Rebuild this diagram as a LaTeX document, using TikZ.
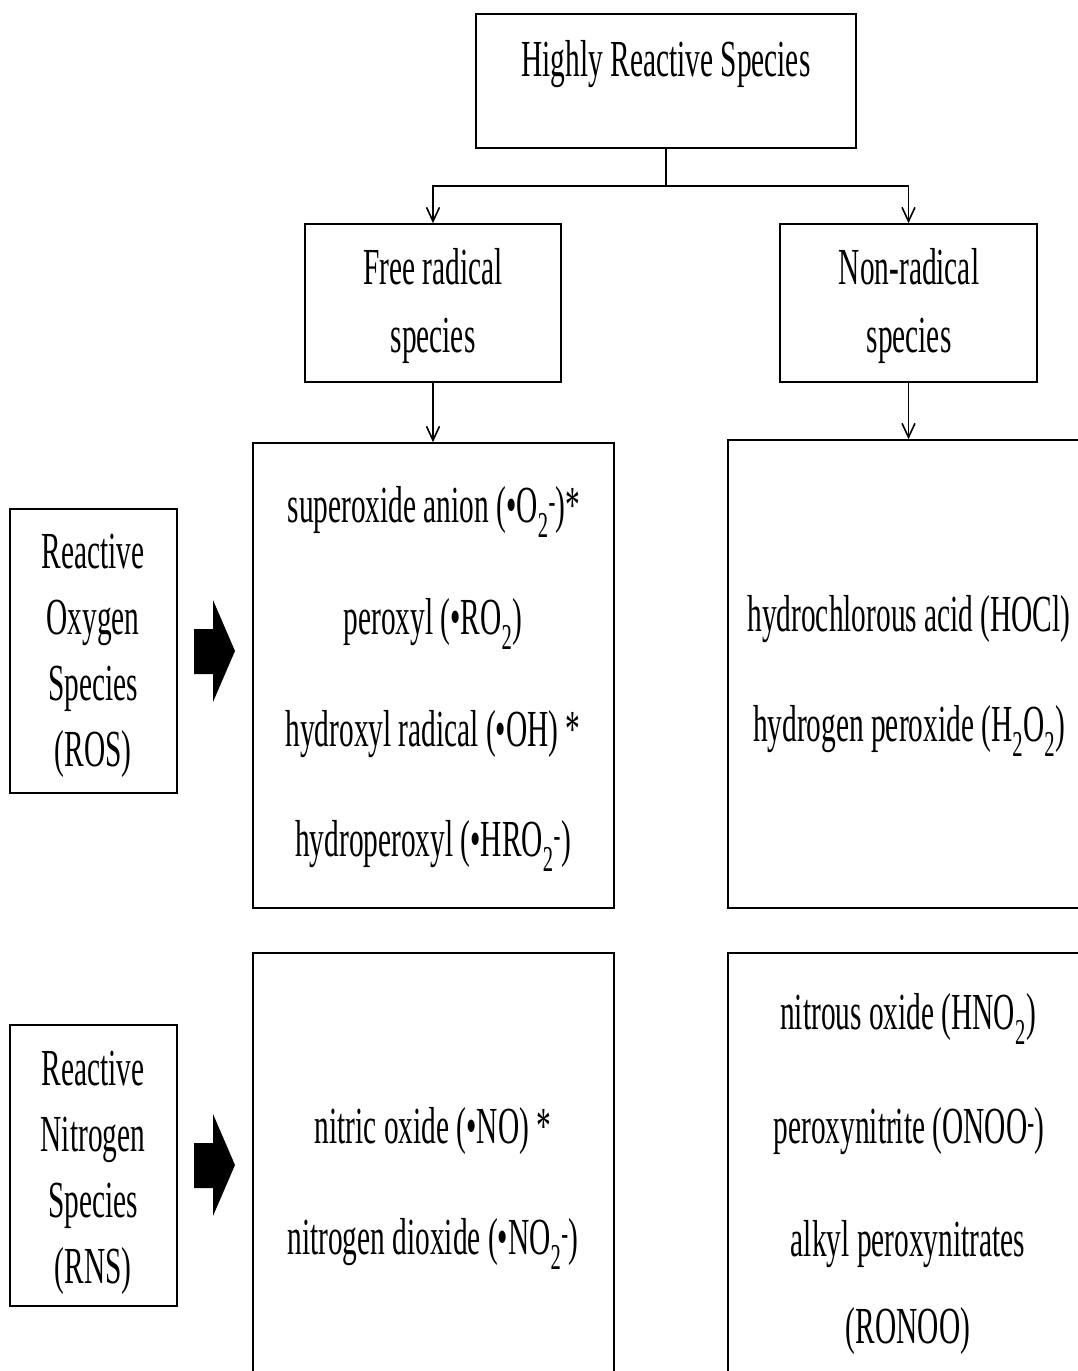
\documentclass[tikz,border=0pt]{standalone}
\usepackage{fontspec}
\setmainfont[FakeStretch=0.565]{Liberation Serif}
\usetikzlibrary{arrows.meta}
\begin{document}
\begin{tikzpicture}[x=1pt,y=-1pt,
  box/.style={draw, line width=1.6pt, inner sep=0pt},
  txt/.style={font=\fontsize{52}{66}\selectfont, inner sep=0pt, align=center},
  link/.style={line width=1.6pt, -{Straight Barb[length=14pt,width=13pt]}},
  blockarrow/.style={fill=black, draw=none},
]
\useasboundingbox (0,0) rectangle (1078,1371);
\clip (0,0) rectangle (1078,1371);

% boxes
\node[box, minimum width=380pt, minimum height=134pt] (top)     at (666,81) {};
\node[box, minimum width=256pt, minimum height=158pt] (free)    at (433,303) {};
\node[box, minimum width=257pt, minimum height=158pt] (nonrad)  at (908.5,303) {};
\node[box, minimum width=361pt, minimum height=465pt] (rosfree) at (433.5,675.5) {};
\node[box, minimum width=362pt, minimum height=468pt] (rosnon)  at (909,674) {};
\node[box, minimum width=361pt, minimum height=437pt] (rnsfree) at (433.5,1171.5) {};
\node[box, minimum width=362pt, minimum height=437pt] (rnsnon)  at (909,1171.5) {};
\node[box, minimum width=167pt, minimum height=284pt] (roslab)  at (93.5,651) {};
\node[box, minimum width=167pt, minimum height=281pt] (rnslab)  at (93.5,1165.5) {};

% connectors
\coordinate (split) at (666,186);
\draw[line width=1.6pt] (top.south) -- (split);
\draw[link] (split) -| (free.north);
\draw[link] (split) -| (nonrad.north);
\draw[link] (free.south) -- (free.south |- rosfree.north);
\draw[link] (nonrad.south) -- (nonrad.south |- rosnon.north);

% block arrows
\fill[blockarrow] (194,629) -- (213,629) -- (213,600) -- (235,651) -- (213,702) -- (213,674) -- (194,674) -- cycle;
\fill[blockarrow] (194,1143) -- (213,1143) -- (213,1114) -- (235,1165) -- (213,1216) -- (213,1188) -- (194,1188) -- cycle;

% texts
\node[txt] (ttop) at (666,64) {Highly Reactive Species};
\node[txt, font=\fontsize{52}{68}\selectfont] (tfree) at (433,306) {Free radical\\species};
\node[txt, font=\fontsize{52}{68}\selectfont] (tnon) at (909,306) {Non-radical\\species};

\node[txt] (r1) at (434,512) {superoxide anion (•O\textsubscript{2}\textsuperscript{-})*};
\node[txt] (r2) at (433,624) {peroxyl (•RO\textsubscript{2})};
\node[txt] (r3) at (433,734) {hydroxyl radical (•OH) *};
\node[txt] (r4) at (433,846) {hydroperoxyl (•HRO\textsubscript{2}\textsuperscript{-})};

\node[txt] (n1) at (909,619) {hydrochlorous acid (HOCl)};
\node[txt] (n2) at (909,731) {hydrogen peroxide (H\textsubscript{2}O\textsubscript{2})};

\node[txt] (f1) at (433,1131) {nitric oxide (•NO) *};
\node[txt] (f2) at (433,1244) {nitrogen dioxide (•NO\textsubscript{2}\textsuperscript{-})};

\node[txt] (m1) at (908,1019) {nitrous oxide (HNO\textsubscript{2})};
\node[txt] (m2) at (909,1131) {peroxynitrite (ONOO\textsuperscript{-})};
\node[txt] (m3) at (908,1244) {alkyl peroxynitrates};
\node[txt] (m4) at (908,1331) {(RONOO)};

\node[txt] (tros) at (93,656) {Reactive\\Oxygen\\Species\\(ROS)};
\node[txt] (trns) at (93,1173) {Reactive\\Nitrogen\\Species\\(RNS)};
\end{tikzpicture}
\end{document}
